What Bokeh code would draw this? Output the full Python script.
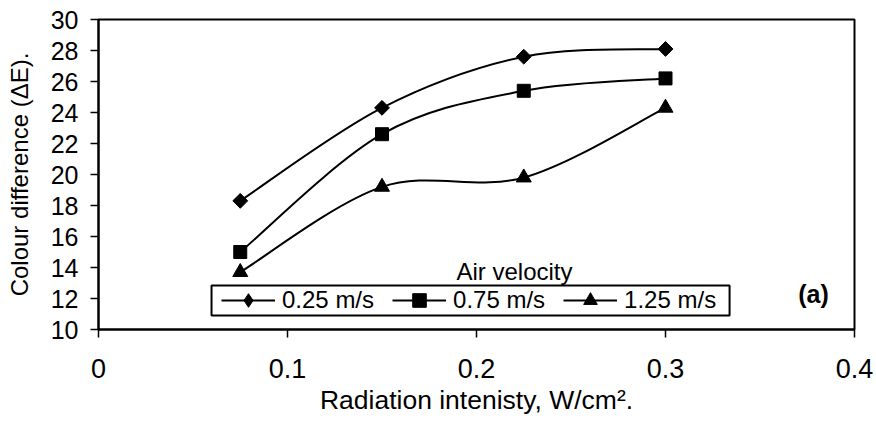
import numpy as np
from bokeh.plotting import figure
from bokeh.models import (ColumnDataSource, Legend, LegendItem, Label,
                          FixedTicker, BoxAnnotation, Range1d)
from bokeh.embed import file_html
from bokeh.resources import INLINE

# ---- data ----
intensity = [0.075, 0.15, 0.225, 0.30]
v025 = [18.3, 24.3, 27.6, 28.1]
v075 = [15.0, 22.6, 25.4, 26.2]
v125 = [13.7, 19.2, 19.8, 24.3]
series_labels = ["0.25 m/s", "0.75 m/s", "1.25 m/s"]
x_ticks = [0, 0.1, 0.2, 0.3, 0.4]
x_tick_labels = ["0", "0.1", "0.2", "0.3", "0.4"]
y_ticks = [10, 12, 14, 16, 18, 20, 22, 24, 26, 28, 30]

FONT = "Liberation Sans"

p = figure(width=876, height=428, output_backend="svg", toolbar_location=None,
           x_range=Range1d(0, 0.4), y_range=Range1d(10, 30),
           min_border_left=98, min_border_right=22, min_border_top=19,
           min_border_bottom=99)
p.background_fill_color = "white"
p.border_fill_color = "white"
p.grid.visible = False
p.outline_line_color = "black"
p.outline_line_width = 2

for ax in (p.xaxis[0], p.yaxis[0]):
    ax.axis_line_color = "black"
    ax.axis_line_width = 2
    ax.major_tick_line_color = "black"
    ax.major_tick_line_width = 1.5
    ax.major_tick_out = 8
    ax.major_tick_in = 0
    ax.minor_tick_line_color = None
    ax.major_label_text_font = FONT
    ax.major_label_text_color = "black"
    ax.axis_label_text_font = FONT
    ax.axis_label_text_font_style = "normal"
    ax.axis_label_text_color = "black"

p.xaxis.ticker = FixedTicker(ticks=x_ticks)
p.xaxis.major_label_overrides = {t: l for t, l in zip(x_ticks, x_tick_labels)}
p.xaxis.major_label_text_font_size = "27px"
p.xaxis.major_label_standoff = 21
p.xaxis.axis_label = "Radiation intenisty, W/cm\u00b2."
p.xaxis.axis_label_text_font_size = "26.5px"
p.xaxis.axis_label_standoff = 4

p.yaxis.ticker = FixedTicker(ticks=y_ticks)
p.yaxis.major_label_text_font_size = "25px"
p.yaxis.major_label_standoff = 12
p.yaxis.axis_label = "Colour difference (\u0394E)."
p.yaxis.axis_label_text_font_size = "24px"
p.yaxis.axis_label_standoff = 15


def smooth_segments(xs, ys, t=1.0 / 6.0):
    xs = np.asarray(xs, float)
    ys = np.asarray(ys, float)
    n = len(xs)
    px = np.concatenate([[xs[0]], xs, [xs[-1]]])
    py = np.concatenate([[ys[0]], ys, [ys[-1]]])
    d = dict(x0=[], y0=[], x1=[], y1=[], cx0=[], cy0=[], cx1=[], cy1=[])
    for i in range(n - 1):
        a, b = i + 1, i + 2
        d["x0"].append(px[a]); d["y0"].append(py[a])
        d["x1"].append(px[b]); d["y1"].append(py[b])
        d["cx0"].append(px[a] + (px[b] - px[a - 1]) * t)
        d["cy0"].append(py[a] + (py[b] - py[a - 1]) * t)
        d["cx1"].append(px[b] - (px[b + 1] - px[a]) * t)
        d["cy1"].append(py[b] - (py[b + 1] - py[a]) * t)
    return ColumnDataSource(d)


# legend frame (drawn first, beneath everything)
box = BoxAnnotation(left=0.0598, right=0.3339, top=12.84, bottom=10.9,
                    fill_color="white", fill_alpha=1.0,
                    line_color="black", line_alpha=1.0, line_width=2,
                    level="underlay")
p.add_layout(box)

items = []
for i, (ys, lab) in enumerate(zip([v025, v075, v125], series_labels)):
    curve = p.bezier(x0="x0", y0="y0", x1="x1", y1="y1", cx0="cx0",
                     cy0="cy0", cx1="cx1", cy1="cy1",
                     source=smooth_segments(intensity, ys),
                     line_color="black", line_width=2)
    if i == 0:
        # legend symbol (a diamond hidden under the plotted diamonds)
        leg_mk = p.scatter(x=intensity, y=ys, marker="diamond", size=13,
                           fill_color="black", line_color="black")
        p.scatter(x=intensity, y=ys, marker="square", size=10.5,
                  angle=np.pi / 4, fill_color="black", line_color="black")
    elif i == 1:
        leg_mk = p.scatter(x=intensity, y=ys, marker="square", size=13,
                           fill_color="black", line_color="black")
    else:
        leg_mk = p.scatter(x=intensity, y=ys, marker="triangle", size=15,
                           fill_color="black", line_color="black")
    items.append(LegendItem(label=lab, renderers=[curve, leg_mk]))

legend = Legend(items=items, orientation="horizontal", location=(123, 12),
                glyph_width=54, glyph_height=34, label_standoff=7, spacing=18,
                padding=0, margin=0, border_line_alpha=0,
                background_fill_alpha=0,
                label_text_font=FONT, label_text_font_size="24px",
                label_text_color="black")
p.add_layout(legend, "center")

p.add_layout(Label(x=0.1894, y=13.74, text="Air velocity",
                   text_font=FONT, text_font_size="24px",
                   text_baseline="alphabetic", text_align="left",
                   text_color="black"))
p.add_layout(Label(x=0.3783, y=12.26, text="(a)", text_font=FONT,
                   text_font_size="25px", text_font_style="bold",
                   text_baseline="middle", text_align="center",
                   text_color="black"))

open("out.html", "w").write(file_html(p, INLINE))
